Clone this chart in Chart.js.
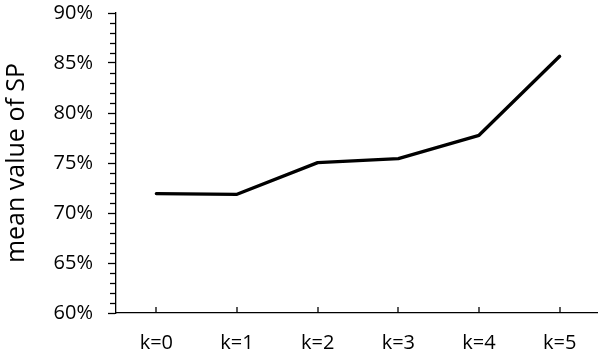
<!DOCTYPE html>
<html>
<head>
<meta charset="utf-8">
<script src="https://cdn.jsdelivr.net/npm/chart.js@4/dist/chart.umd.min.js"></script>
<style>
html,body{margin:0;padding:0;background:#fff;overflow:hidden;}
#wrap{position:relative;width:600px;height:359px;}
</style>
</head>
<body>
<div id="wrap"><canvas id="c"></canvas></div>
<script>
const categories = ["k=0","k=1","k=2","k=3","k=4","k=5"];
const meanSP = [71.94, 71.87, 75.04, 75.44, 77.77, 85.67];
const yMin = 60, yMax = 90, yMajorStep = 5, yMinorStep = 1;
const yTitle = "mean value of SP";
const FONT = "'Open Sans', sans-serif";

const tickPlugin = {
  id: 'customTicks',
  afterDraw(chart) {
    const ctx = chart.ctx;
    const y = chart.scales.y, x = chart.scales.x;
    const area = chart.chartArea;
    ctx.save();
    ctx.strokeStyle = '#000';
    ctx.lineWidth = 1.3;
    for (let v = yMin; v <= yMax; v += yMinorStep) {
      if (v % yMajorStep === 0) continue;
      const py = Math.round(y.getPixelForValue(v)) + 0.5;
      ctx.beginPath();
      ctx.moveTo(area.left - 6, py);
      ctx.lineTo(area.left, py);
      ctx.stroke();
    }
    for (let i = 0; i < categories.length; i++) {
      const px = Math.round(x.getPixelForValue(i));
      ctx.beginPath();
      ctx.moveTo(px, area.bottom);
      ctx.lineTo(px, area.bottom - 6);
      ctx.stroke();
    }
    ctx.restore();
  }
};

new Chart(document.getElementById('c'), {
  type: 'line',
  data: {
    labels: categories,
    datasets: [{
      data: meanSP,
      borderColor: '#000',
      borderWidth: 3.3,
      pointRadius: 0,
      tension: 0,
      fill: false,
      borderCapStyle: 'round',
      borderJoinStyle: 'round'
    }]
  },
  options: {
    responsive: true,
    maintainAspectRatio: false,
    animation: false,
    devicePixelRatio: 1,
    layout: { padding: { top: 13, left: 0, right: 0, bottom: 0 } },
    plugins: { legend: { display: false }, tooltip: { enabled: false } },
    scales: {
      x: {
        offset: true,
        grid: { display: false, drawTicks: false },
        border: { display: true, color: '#000', width: 1.3 },
        ticks: { color: '#000', font: { family: FONT, size: 20 }, padding: 18, maxRotation: 0 },
        afterFit(s) { s.height = 46; s.paddingLeft = 0; s.paddingRight = 0; }
      },
      y: {
        min: yMin, max: yMax,
        grid: { display: true, drawOnChartArea: false, drawTicks: true, tickLength: 8, tickColor: '#000', tickWidth: 1.3 },
        border: { display: true, color: '#000', width: 1.3 },
        ticks: { stepSize: yMajorStep, color: '#000', font: { family: FONT, size: 20 }, padding: 15,
          callback: v => v + '%' },
        title: { display: true, text: yTitle, color: '#000', font: { family: FONT, size: 25 }, padding: { top: 2, bottom: 0 } },
        afterFit(s) { s.width = 116; s.paddingTop = 0; s.paddingBottom = 0; }
      }
    }
  },
  plugins: [tickPlugin]
});
</script>
</body>
</html>
